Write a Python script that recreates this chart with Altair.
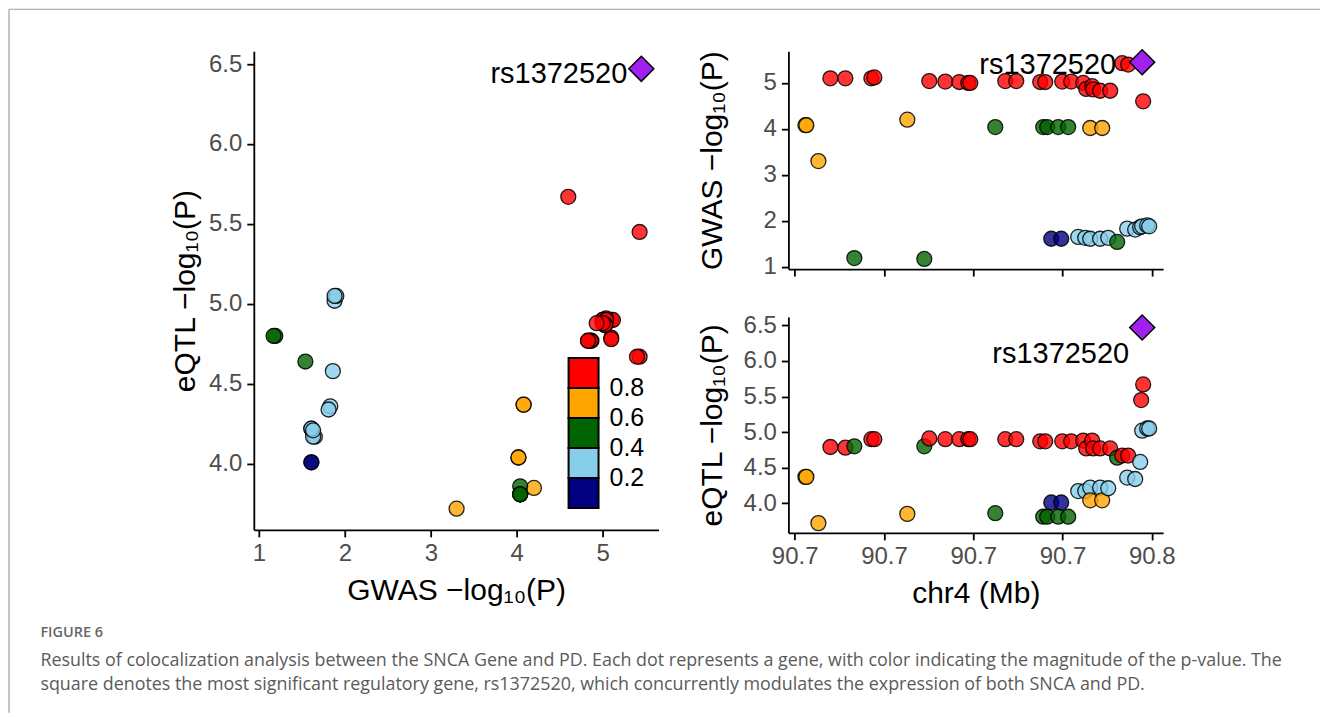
import altair as alt
import pandas as pd

# ---------------- data ----------------
positions_mb = [90.67240, 90.67262, 90.67531, 90.67799, 90.68135, 90.68336, 90.68717, 90.68784,
                90.69523, 90.69903, 90.70015, 90.70374, 90.70687, 90.70888, 90.70933, 90.71493,
                90.71717, 90.71963, 90.72500, 90.72567, 90.72612, 90.72657, 90.72747, 90.72903,
                90.72970, 90.72993, 90.73127, 90.73194, 90.73351, 90.73463, 90.73508, 90.73530,
                90.73620, 90.73620, 90.73664, 90.73687, 90.73843, 90.73843, 90.73888, 90.74023,
                90.74067, 90.74224, 90.74336, 90.74448, 90.74470, 90.74627, 90.74739, 90.74761,
                90.74784, 90.74806, 90.74896, 90.74941]
gwas_logp = [4.08, 4.08, 3.30, 5.10, 5.10, 1.19, 5.10, 5.12,
             4.20, 1.17, 5.04, 5.03, 5.02, 5.00, 5.00, 4.04,
             5.04, 5.04, 5.02, 4.04, 5.02, 4.04, 1.61, 4.04,
             1.61, 5.03, 4.04, 5.03, 1.65, 5.00, 1.63, 4.87,
             1.61, 4.02, 4.93, 4.86, 4.83, 1.61, 4.02, 1.63,
             4.83, 1.54, 5.43, 1.83, 5.40, 1.81, 1.86, 5.43,
             1.88, 4.60, 1.90, 1.88]
eqtl_logp = [4.37, 4.37, 3.72, 4.79, 4.78, 4.80, 4.90, 4.90,
             3.85, 4.80, 4.91, 4.90, 4.90, 4.90, 4.90, 3.86,
             4.90, 4.90, 4.87, 3.81, 4.87, 3.81, 4.01, 3.81,
             4.01, 4.87, 3.81, 4.87, 4.17, 4.88, 4.17, 4.77,
             4.22, 4.04, 4.88, 4.77, 4.77, 4.22, 4.04, 4.21,
             4.77, 4.64, 4.67, 4.36, 4.67, 4.34, 4.58, 5.45,
             5.02, 5.67, 5.05, 5.05]
ld_r2 = [0.7, 0.7, 0.7, 0.9, 0.9, 0.5, 0.9, 0.9,
         0.7, 0.5, 0.9, 0.9, 0.9, 0.9, 0.9, 0.5,
         0.9, 0.9, 0.9, 0.5, 0.9, 0.5, 0.1, 0.5,
         0.1, 0.9, 0.5, 0.9, 0.3, 0.9, 0.3, 0.9,
         0.3, 0.7, 0.9, 0.9, 0.9, 0.3, 0.7, 0.3,
         0.9, 0.5, 0.9, 0.3, 0.9, 0.3, 0.3, 0.9,
         0.3, 0.9, 0.3, 0.3]

lead_snp = ["rs1372520"]
lead_pos_mb = [90.74784]
lead_gwas = [5.45]
lead_eqtl = [6.47]

ld_breaks = [0.2, 0.4, 0.6, 0.8]
ld_colors = ["#000080", "#87CEEB", "#006400", "#FFA500", "#FF0000"]
lead_color = "#A020F0"

pos_ticks = [90.67, 90.69, 90.71, 90.73, 90.75]
gwas_ticks = [1, 2, 3, 4, 5]
eqtl_ticks = [4.0, 4.5, 5.0, 5.5, 6.0, 6.5]

caption_head = "FIGURE 6"
caption_lines = [
    "Results of colocalization analysis between the SNCA Gene and PD. Each dot represents a gene, with color indicating the magnitude of the p-value. The",
    "square denotes the most significant regulatory gene, rs1372520, which concurrently modulates the expression of both SNCA and PD.",
]

snps = pd.DataFrame({"pos": positions_mb, "gwas": gwas_logp, "eqtl": eqtl_logp, "r2": ld_r2})
lead = pd.DataFrame({"pos": lead_pos_mb, "gwas": lead_gwas, "eqtl": lead_eqtl, "snp": lead_snp})

FONT = "Liberation Sans"
CAP_FONT = "Open Sans"


def axis(**kw):
    base = dict(domainColor="black", domainWidth=1.8, tickColor="black", tickWidth=1.8,
                tickSize=7, labelColor="#4D4D4D", labelFontSize=24, labelFont=FONT,
                titleFont=FONT, titleFontSize=30, titleFontWeight="normal",
                titleColor="black", grid=False, labelPadding=5)
    base.update(kw)
    return alt.Axis(**base)


ld_scale = alt.Scale(type="threshold", domain=ld_breaks, range=ld_colors)
legend = alt.Legend(title=None, type="gradient", direction="vertical", orient="none",
                    legendX=315, legendY=307, gradientLength=150, gradientThickness=30,
                    gradientStrokeColor="black", gradientStrokeWidth=2, labelFont=FONT,
                    labelFontSize=25, labelColor="black", labelOffset=11,
                    labelOverlap=False, padding=0, format=".1f")

pt_style = dict(shape="circle", filled=True, size=225, stroke="black", strokeWidth=1.3,
                fillOpacity=0.8, strokeOpacity=0.85)
lead_style = dict(shape="diamond", filled=True, size=625, fill=lead_color, stroke="black",
                  strokeWidth=1.5, opacity=1)
txt_style = dict(font=FONT, fontSize=29, color="black", align="right", baseline="middle")


def panel(x, y, with_legend, dx, dy, w, h, extra=()):
    col = alt.Color("r2:Q", scale=ld_scale, legend=legend if with_legend else None)
    pts = alt.Chart(snps).mark_point(**pt_style).encode(x=x, y=y, color=col)
    dia = alt.Chart(lead).mark_point(**lead_style).encode(x=x, y=y)
    lab = alt.Chart(lead).mark_text(dx=dx, dy=dy, **txt_style).encode(x=x, y=y, text="snp:N")
    return alt.layer(pts, dia, lab, *extra).properties(width=w, height=h)


# page frame (article figure box), drawn relative to the left panel
frame_top = alt.Chart(lead).mark_rule(color="#9E9E9E", strokeWidth=1.2).encode(
    x=alt.value(-245), x2=alt.value(1067), y=alt.value(-42))
frame_left = alt.Chart(lead).mark_rule(color="#9E9E9E", strokeWidth=1.2).encode(
    x=alt.value(-245), y=alt.value(-42), y2=alt.value(662))

# left: eQTL vs GWAS
lx = alt.X("gwas:Q", scale=alt.Scale(domain=[0.94, 5.65], nice=False, zero=False),
           axis=axis(values=gwas_ticks, format="d", title="GWAS −log₁₀(P)", titlePadding=10))
ly = alt.Y("eqtl:Q", scale=alt.Scale(domain=[3.5875, 6.58], nice=False, zero=False),
           axis=axis(values=eqtl_ticks, format=".1f", title="eQTL −log₁₀(P)", titlePadding=8))
left = panel(lx, ly, True, -14, 5, 405, 479, extra=(frame_top, frame_left))

xs = alt.Scale(domain=[90.66859, 90.75253], nice=False, zero=False)
# top right: GWAS along chr4
tx = alt.X("pos:Q", scale=xs, axis=axis(values=pos_ticks, labels=False, title=None))
ty = alt.Y("gwas:Q", scale=alt.Scale(domain=[0.95, 5.69], nice=False, zero=False),
           axis=axis(values=gwas_ticks, format="d", title="GWAS −log₁₀(P)", titlePadding=36))
top_right = panel(tx, ty, False, -26, 3, 375, 218)

# bottom right: eQTL along chr4
bx = alt.X("pos:Q", scale=xs, axis=axis(values=pos_ticks, format=".1f", title="chr4 (Mb)",
                                        titlePadding=10))
by = alt.Y("eqtl:Q", scale=alt.Scale(domain=[3.583, 6.617], nice=False, zero=False),
           axis=axis(values=eqtl_ticks, format=".1f", title="eQTL −log₁₀(P)", titlePadding=16))
bottom_right = panel(bx, by, False, -13, 27, 375, 216)

right_col = alt.vconcat(top_right, bottom_right, spacing=48, bounds="flush").resolve_scale(
    color="independent")

chart = (
    alt.hconcat(left, right_col, spacing=130, bounds="flush")
    .resolve_scale(color="independent")
    .properties(
        title=alt.TitleParams(
            text=caption_head, subtitle=caption_lines, orient="bottom", anchor="start",
            frame="bounds", dx=32, offset=-87, font=CAP_FONT, fontSize=14.5,
            fontWeight=600, color="#666666", subtitleFont=CAP_FONT, subtitleFontSize=17.9,
            subtitleColor="#5A5A5A", subtitleLineHeight=24, subtitlePadding=11),
        padding={"left": 0, "top": 0, "right": 0, "bottom": 0},
    )
    .configure(background="white")
    .configure_view(stroke=None)
)

chart.save("out.html", embed_options={"renderer": "svg", "actions": False})
